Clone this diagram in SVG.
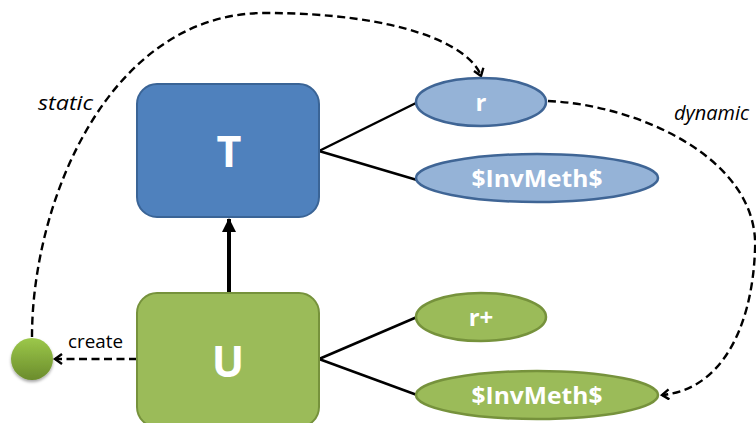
<svg xmlns="http://www.w3.org/2000/svg" width="756" height="423" viewBox="0 0 756 423">
<defs>
<style>
.box-b{fill:#4F81BD;stroke:#3A6496;stroke-width:2}
.box-g{fill:#9BBB59;stroke:#76923C;stroke-width:2}
.ell-b{fill:#95B3D7;stroke:#3F6595;stroke-width:2.5}
.ell-g{fill:#9BBB59;stroke:#76923C;stroke-width:2.5}
.big{font-family:"Open Sans","Liberation Sans",sans-serif;font-weight:bold;font-size:43px;fill:#fff;text-anchor:middle}
.lbl{font-family:"Open Sans","Liberation Sans",sans-serif;font-weight:bold;font-size:24px;fill:#fff;text-anchor:middle}
.it{font-family:"Open Sans","Liberation Sans",sans-serif;font-style:italic;font-size:20px;fill:#000}
.reg{font-family:"Open Sans","Liberation Sans",sans-serif;font-size:18px;fill:#000}
.line{stroke:#000;stroke-width:2.5;fill:none}
.dash{stroke:#000;stroke-width:2.4;fill:none;stroke-dasharray:8,4.5}
</style>
<marker id="open" markerWidth="12" markerHeight="12" refX="9" refY="6" orient="auto" markerUnits="userSpaceOnUse">
<path d="M2,1 L9,6 L2,11" fill="none" stroke="#000" stroke-width="2.4"/>
</marker>
<marker id="solid" markerWidth="14" markerHeight="16" refX="13" refY="8" orient="auto" markerUnits="userSpaceOnUse">
<path d="M0,1 L14,8 L0,15 Z" fill="#000"/>
</marker>
<linearGradient id="gball" x1="0" y1="0" x2="0" y2="1">
<stop offset="0" stop-color="#9CC84A"/>
<stop offset="1" stop-color="#6B8C2C"/>
</linearGradient>
<filter id="sh" x="-50%" y="-50%" width="200%" height="200%">
<feDropShadow dx="0" dy="2" stdDeviation="1.5" flood-color="#000" flood-opacity="0.35"/>
</filter>
</defs>
<g id="connectors">
<path class="line" d="M319,151 L416,103"/>
<path class="line" d="M319,151 L417,180"/>
<path class="line" d="M319,359 L417,317"/>
<path class="line" d="M319,359 L417,395"/>
<path d="M229,293 L229,219" stroke="#000" stroke-width="4" fill="none" marker-end="url(#solid)"/>
<path class="dash" d="M137,359 L55,359" marker-end="url(#open)"/>
<path class="dash" d="M32,337 C32,200 110,13 265,13 C400,13 470,45 481,76" marker-end="url(#open)"/>
<path class="dash" d="M548,101 C640,105 760,160 755,250 C752,330 720,390 662,395" marker-end="url(#open)"/>
</g>
<g id="T">
<rect class="box-b" x="137" y="84" width="182" height="133" rx="20"/>
<text class="big" x="229" y="167">T</text>
</g>
<g id="U">
<rect class="box-g" x="137" y="293" width="182" height="134" rx="20"/>
<text class="big" x="228" y="377">U</text>
</g>
<g id="r">
<ellipse class="ell-b" cx="481" cy="102" rx="65" ry="24"/>
<text class="lbl" x="481" y="111">r</text>
</g>
<g id="invmeth-t">
<ellipse class="ell-b" cx="537" cy="178" rx="121" ry="24"/>
<text class="lbl" x="537" y="187" textLength="131" lengthAdjust="spacingAndGlyphs">$InvMeth$</text>
</g>
<g id="rplus">
<ellipse class="ell-g" cx="481" cy="317" rx="65" ry="24"/>
<text class="lbl" x="481" y="326">r+</text>
</g>
<g id="invmeth-u">
<ellipse class="ell-g" cx="537" cy="395" rx="121" ry="24"/>
<text class="lbl" x="537" y="404" textLength="131" lengthAdjust="spacingAndGlyphs">$InvMeth$</text>
</g>
<g id="ball">
<circle cx="32" cy="359" r="21" fill="url(#gball)" filter="url(#sh)"/>
</g>
<g id="labels">
<text class="it" x="38" y="110" textLength="55" lengthAdjust="spacingAndGlyphs">static</text>
<text class="it" x="674" y="120" font-size="21">dynamic</text>
<text class="reg" x="68" y="348" textLength="55" lengthAdjust="spacingAndGlyphs">create</text>
</g>
</svg>
